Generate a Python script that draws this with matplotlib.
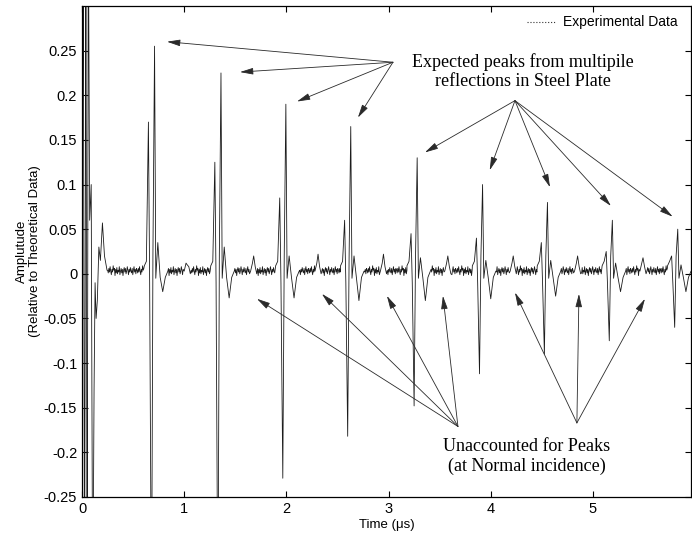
import numpy as np
import matplotlib
matplotlib.use('Agg')
from matplotlib import pyplot as plt
from matplotlib.lines import Line2D

# echo pulses (time of the negative spike, us)
pulse_t = [0.68, 1.33, 1.965, 2.60, 3.25, 3.89, 4.525, 5.16, 5.80]
pre_amp = [0.17, 0.125, 0.085, 0.06, 0.045, 0.04, 0.035, 0.025, 0.02]
neg_amp = [-0.40, -0.40, -0.229, -0.182, -0.148, -0.112, -0.09, -0.075, -0.06]
main_amp = [0.255, 0.225, 0.19, 0.165, 0.13, 0.10, 0.08, 0.06, 0.05]
shoulder_amp = [0.035, 0.03, 0.02, 0.02, 0.018, 0.015, 0.015, 0.012, 0.01]
dip_amp = [-0.02, -0.027, -0.027, -0.03, -0.03, -0.028, -0.025, -0.02, -0.02]

# small "unaccounted" bumps between echoes
bump_t = [1.03, 1.68, 2.31, 2.95, 3.58, 4.22, 4.85, 5.49]
bump_amp = [0.010, 0.020, 0.022, 0.022, 0.020, 0.020, 0.020, 0.018]

# initial transducer burst near t=0
burst_t = [0.0, 0.012, 0.025, 0.038, 0.05, 0.062, 0.075, 0.09, 0.105, 0.118, 0.128,
           0.138, 0.15, 0.165, 0.18, 0.20, 0.22, 0.245]
burst_amp = [0.0, 0.40, -0.40, 0.40, -0.40, 0.40, 0.06, 0.10, -0.40, -0.13, -0.01,
             -0.05, -0.03, 0.03, 0.015, 0.057, 0.02, 0.004]

wiggle = [0.004, 0.001, 0.006, 0.002, 0.008, 0.003, -0.001, 0.005, 0.002, 0.009,
          0.004, 0.006, -0.002, 0.005, 0.001, 0.007, 0.000, 0.004, 0.002, 0.008,
          -0.001, 0.003, 0.006, 0.001, 0.005, -0.002, 0.004, 0.007, 0.002, 0.006,
          0.000, 0.003, 0.008, 0.004, -0.001, 0.005, 0.002, 0.007, 0.003, 0.001,
          0.006, -0.001, 0.004, 0.008, 0.002, 0.005, 0.000, 0.006]

# shape of one echo (offsets from negative spike)
echo_off = [-0.07, -0.05, -0.03, -0.018, 0.0, 0.014, 0.03, 0.042, 0.062, 0.085,
            0.11, 0.135, 0.16]

yticks = [-0.25, -0.2, -0.15, -0.1, -0.05, 0, 0.05, 0.1, 0.15, 0.2, 0.25]
ytick_labels = ['-0.25', '-0.2', '-0.15', '-0.1', '-0.05', '0', '0.05', '0.1', '0.15', '0.2', '0.25']
xticks = [0, 1, 2, 3, 4, 5]


def gap_points(a, b, k0):
    ts, vs = [], []
    t = a
    k = k0
    while t < b:
        near = [i for i, bt in enumerate(bump_t) if abs(t - bt) < 0.035]
        if not near:
            ts.append(t)
            vs.append(wiggle[k % len(wiggle)])
        k += 1
        t += 0.006
    for i, bt in enumerate(bump_t):
        if a < bt < b:
            ts += [bt - 0.03, bt - 0.012, bt, bt + 0.015, bt + 0.03]
            vs += [0.003, 0.012, bump_amp[i], 0.008, 0.000]
    order = np.argsort(ts)
    return list(np.array(ts)[order]), list(np.array(vs)[order])


t_all = list(burst_t)
a_all = list(burst_amp)
last = burst_t[-1]
for i, pt in enumerate(pulse_t):
    gt, gv = gap_points(last + 0.006, pt + echo_off[0], i * 11)
    t_all += gt
    a_all += gv
    vals = [0.009, 0.014, pre_amp[i], -0.01, neg_amp[i], 0.02, main_amp[i], -0.005,
            shoulder_amp[i], -0.004, dip_amp[i], -0.004, 0.003]
    t_all += [pt + o for o in echo_off]
    a_all += vals
    last = pt + echo_off[-1]
gt, gv = gap_points(last + 0.006, 6.0, 5)
t_all += gt
a_all += gv

fig = plt.figure(figsize=(6.92, 5.36), dpi=100)
ax = fig.add_axes([0.1185, 0.0728, 0.8801, 0.916])

ax.plot(t_all, a_all, color='#1c1c1c', lw=0.6)

ax.set_xlim(0, 5.96)
ax.set_ylim(-0.25, 0.30)
ax.set_xticks(xticks)
ax.set_xticklabels([str(x) for x in xticks])
ax.set_yticks(yticks)
ax.set_yticklabels(ytick_labels)
ax.tick_params(direction='in', top=True, right=True, length=4, width=0.8,
               labelsize=10.5)
for lab in ax.get_xticklabels() + ax.get_yticklabels():
    lab.set_family('Liberation Sans')
for s in ax.spines.values():
    s.set_linewidth(0.9)

ax.set_xlabel('Time (\u03bcs)', fontsize=9.5, family='Liberation Sans', labelpad=2)
ax.set_ylabel('Amplutude\n(Relative to Theoretical Data)', fontsize=9.5,
              family='Liberation Sans', labelpad=2, linespacing=1.1)

leg_handle = Line2D([], [], color='#333333', lw=0.8, ls=':')
ax.legend([leg_handle], ['Experimental Data'], loc='upper right', frameon=False,
          prop={'family': 'Liberation Sans', 'size': 10}, handlelength=2.0,
          handletextpad=0.6, borderaxespad=0, bbox_to_anchor=(0.987, 0.992))

serif = 'Liberation Serif'
ax.text(4.315, 0.227, 'Expected peaks from multipile\nreflections in Steel Plate',
        ha='center', va='center', fontsize=13, family=serif, linespacing=1.15)
ax.text(4.354, -0.2045, 'Unaccounted for Peaks\n(at Normal incidence)',
        ha='center', va='center', fontsize=13, family=serif, linespacing=1.15)

arrow_kw = dict(arrowstyle='-|>,head_length=0.8,head_width=0.2', color='#2a2a2a',
                lw=0.6, shrinkA=0, shrinkB=0)

groups = [
    ((3.043, 0.237), [(0.832, 0.26), (1.546, 0.226), (2.104, 0.193), (2.70, 0.175)]),
    ((4.237, 0.194), [(3.356, 0.136), (3.99, 0.116), (4.58, 0.097), (5.176, 0.076),
                      (5.78, 0.064)]),
    ((3.679, -0.171), [(1.712, -0.028), (2.348, -0.0225), (2.984, -0.0247),
                       (3.532, -0.0247)]),
    ((4.843, -0.167), [(4.237, -0.021), (4.863, -0.0225), (5.509, -0.028)]),
]
for origin, heads in groups:
    for h in heads:
        ax.annotate('', xy=h, xytext=origin, arrowprops=arrow_kw)

fig.savefig('out.png', dpi=100)
